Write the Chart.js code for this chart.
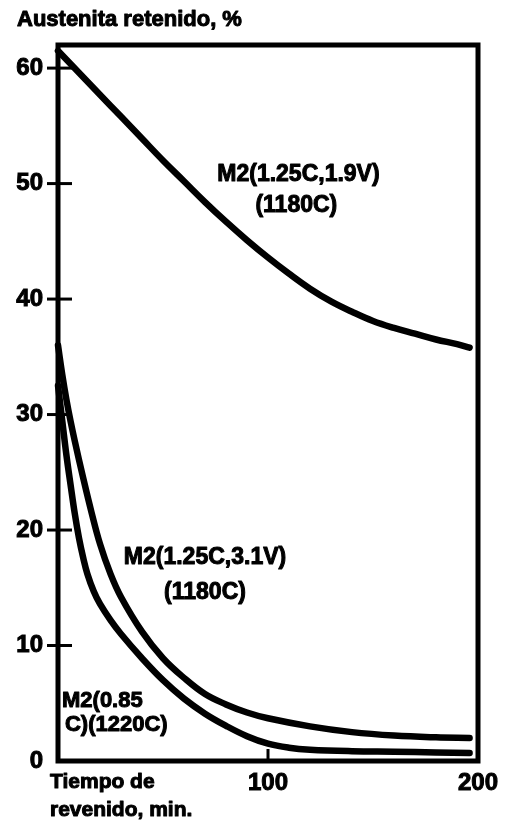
<!DOCTYPE html>
<html lang="es">
<head>
<meta charset="utf-8">
<title>Austenita retenido</title>
<script src="https://cdn.jsdelivr.net/npm/chart.js@4.4.1/dist/chart.umd.min.js"></script>
<style>
    html, body { margin: 0; padding: 0; background: #fff; }
    #wrap { width: 507px; height: 825px; position: relative; }
</style>
</head>
<body>
<div id="wrap"><canvas id="austenitaChart"></canvas></div>
<script>
// Datos (tiempo de revenido en min, austenita retenida en %)
const tiempoA    = [0, 10, 20, 30, 40, 50, 60, 70, 80, 90, 100, 110, 120, 130, 140, 150, 160, 170, 180, 190, 196];
const austenitaA = [61.5, 59.6, 57.7, 55.8, 53.9, 52.0, 50.2, 48.4, 46.7, 45.1, 43.6, 42.2, 40.9, 39.8, 38.9, 38.1, 37.5, 37.0, 36.5, 36.1, 35.8];

const tiempoB    = [0, 2, 4, 6, 8, 12, 16, 20, 25, 30, 40, 50, 60, 70, 80, 90, 100, 120, 140, 160, 180, 196];
const austenitaB = [36, 33.5, 31.3, 29.4, 27.7, 24.5, 21.5, 18.8, 16.2, 14.2, 11.2, 8.9, 7.2, 5.8, 4.9, 4.2, 3.7, 3.0, 2.5, 2.2, 2.05, 2.0];

const tiempoC    = [0, 2, 4, 6, 8, 10, 12, 14, 17, 20, 25, 30, 40, 50, 60, 70, 80, 90, 100, 110, 120, 140, 160, 180, 196];
const austenitaC = [32.5, 29.5, 26.5, 23.9, 21.4, 19.3, 17.6, 16.2, 14.7, 13.6, 12.2, 11.0, 8.9, 7.0, 5.4, 4.1, 3.05, 2.15, 1.5, 1.15, 0.98, 0.85, 0.8, 0.74, 0.7];

const yTicks = [0, 10, 20, 30, 40, 50, 60];
const xTicks = [100, 200];

const toPoints = (xs, ys) => xs.map((x, i) => ({ x: x, y: ys[i] }));

// Rotulos de las curvas (posicion en unidades de los ejes)
const rotulos = [
    { text: 'M2(1.25C,1.9V)', x: 114.5, y: 50.8, align: 'center', size: 23 },
    { text: '(1180C)',        x: 113.5, y: 48.1, align: 'center', size: 23 },
    { text: 'M2(1.25C,3.1V)', x: 70,    y: 17.6, align: 'center', size: 23 },
    { text: '(1180C)',        x: 70,    y: 14.6, align: 'center', size: 23 },
    { text: 'M2(0.85',        x: 1.9,   y: 5.2,  align: 'left',   size: 22 },
    { text: 'C)(1220C)',      x: 3.3,   y: 3.1,  align: 'left',   size: 22 }
];

const FONT = '"Liberation Sans", Arial, sans-serif';

function texto(ctx, t, x, y) {
    ctx.strokeText(t, x, y);
    ctx.fillText(t, x, y);
}

const marco = {
    id: 'marco',
    afterDraw(chart) {
        const { ctx, chartArea: a, scales: { x, y } } = chart;
        ctx.save();
        ctx.strokeStyle = '#000';
        ctx.fillStyle = '#000';

        // caja del grafico
        ctx.lineWidth = 5;
        ctx.strokeRect(a.left, a.top, a.right - a.left, a.bottom - a.top);

        // marcas del eje y (cruzan el eje)
        ctx.lineWidth = 3;
        yTicks.filter(v => v > 0).forEach(v => {
            const py = y.getPixelForValue(v);
            ctx.beginPath();
            ctx.moveTo(a.left - 11, py);
            ctx.lineTo(a.left + 14, py);
            ctx.stroke();
        });
        // marca en 100 min
        const px = x.getPixelForValue(100);
        ctx.beginPath();
        ctx.moveTo(px, a.bottom);
        ctx.lineTo(px, a.bottom - 12);
        ctx.stroke();

        // titulos
        ctx.lineWidth = 1;
        ctx.lineJoin = 'round';
        ctx.textBaseline = 'alphabetic';
        ctx.textAlign = 'left';
        ctx.font = 'bold 22px ' + FONT;
        texto(ctx, 'Austenita retenido, %', 17, 26);
        ctx.font = 'bold 21px ' + FONT;
        texto(ctx, 'Tiempo de', 50, 788);
        texto(ctx, 'revenido, min.', 50, 816);

        // rotulos de las curvas
        ctx.textBaseline = 'middle';
        rotulos.forEach(r => {
            ctx.font = 'bold ' + r.size + 'px ' + FONT;
            ctx.textAlign = r.align;
            texto(ctx, r.text, x.getPixelForValue(r.x), y.getPixelForValue(r.y));
        });
        ctx.restore();
    }
};

document.addEventListener('DOMContentLoaded', () => {
    const ctx = document.getElementById('austenitaChart').getContext('2d');
    const estilo = {
        borderColor: '#000',
        borderWidth: 6.5,
        borderCapStyle: 'round',
        borderJoinStyle: 'round',
        pointRadius: 0,
        tension: 0.4,
        clip: false
    };
    new Chart(ctx, {
        type: 'line',
        data: {
            datasets: [
                { label: 'M2(1.25C,1.9V) (1180C)', data: toPoints(tiempoA, austenitaA), ...estilo },
                { label: 'M2(1.25C,3.1V) (1180C)', data: toPoints(tiempoB, austenitaB), ...estilo },
                { label: 'M2(0.85C) (1220C)',      data: toPoints(tiempoC, austenitaC), ...estilo }
            ]
        },
        options: {
            responsive: true,
            maintainAspectRatio: false,
            animation: false,
            layout: { padding: { top: 45, right: 29, left: 0, bottom: 0 } },
            plugins: { legend: { display: false }, tooltip: { enabled: false } },
            scales: {
                x: {
                    type: 'linear',
                    min: 0,
                    max: 200,
                    grid: { display: false, drawTicks: false },
                    border: { display: false },
                    afterBuildTicks: s => { s.ticks = xTicks.map(v => ({ value: v })); },
                    afterFit: s => { s.height = 64; },
                    ticks: {
                        color: '#000',
                        padding: 8,
                        maxRotation: 0,
                        textStrokeColor: '#000',
                        textStrokeWidth: 1,
                        font: { family: FONT, size: 24, weight: 'bold' }
                    }
                },
                y: {
                    min: 0,
                    max: 62,
                    grid: { display: false, drawTicks: false },
                    border: { display: false },
                    afterBuildTicks: s => { s.ticks = yTicks.map(v => ({ value: v })); },
                    afterFit: s => { s.width = 58; },
                    ticks: {
                        color: '#000',
                        padding: 15,
                        textStrokeColor: '#000',
                        textStrokeWidth: 1,
                        font: { family: FONT, size: 24, weight: 'bold' }
                    }
                }
            }
        },
        plugins: [marco]
    });
});
</script>
</body>
</html>
